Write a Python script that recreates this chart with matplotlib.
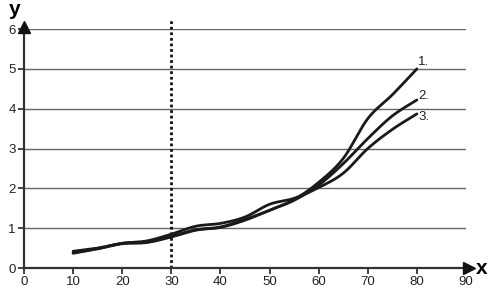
import numpy as np
import matplotlib.pyplot as plt

# values
x = [10, 15, 20, 25, 30, 35, 40, 45, 50, 55, 60, 65, 70, 75, 80]
line1 = [0.38, 0.49, 0.62, 0.65, 0.80, 0.96, 1.03, 1.22, 1.45, 1.72, 2.15, 2.75, 3.75, 4.35, 5.00]
line2 = [0.37, 0.48, 0.61, 0.64, 0.78, 0.95, 1.02, 1.20, 1.45, 1.70, 2.08, 2.62, 3.25, 3.82, 4.22]
line3 = [0.42, 0.50, 0.62, 0.68, 0.85, 1.05, 1.12, 1.28, 1.60, 1.75, 2.02, 2.38, 3.00, 3.48, 3.87]
labels = ["1.", "2.", "3."]
label_shift = [0.17, 0.10, -0.08]
x_ticks = [0, 10, 20, 30, 40, 50, 60, 70, 80, 90]
y_ticks = [0, 1, 2, 3, 4, 5, 6]
x_mark = 30


# smooth drawing of a line through the points (Catmull-Rom)
def smooth(xx, yy, n=20):
    p = np.column_stack([xx, yy]).astype(float)
    p = np.vstack([p[0], p, p[-1]])
    out = []
    t = np.linspace(0, 1, n, endpoint=False)[:, None]
    for i in range(1, len(p) - 2):
        p0, p1, p2, p3 = p[i - 1], p[i], p[i + 1], p[i + 2]
        seg = 0.5 * ((2 * p1) + (-p0 + p2) * t + (2 * p0 - 5 * p1 + 4 * p2 - p3) * t ** 2
                     + (-p0 + 3 * p1 - 3 * p2 + p3) * t ** 3)
        out.append(seg)
    out.append(p[-2][None, :])
    out = np.vstack(out)
    return out[:, 0], out[:, 1]


plt.rcParams['font.family'] = ['Liberation Sans', 'DejaVu Sans']
fig = plt.figure(figsize=(5, 2.95), dpi=100)
ax = fig.add_axes([0.048, 0.0915, 0.884, 0.81])

for yv in y_ticks[1:]:
    ax.axhline(yv, color='#666666', lw=1, zorder=1)

ax.plot([x_mark, x_mark], [0, 6.28], color='#111111', lw=2, ls=(0, (1, 1)), zorder=2, clip_on=False)

for ys, lab, sh in zip([line1, line2, line3], labels, label_shift):
    sx, sy = smooth(x, ys)
    ax.plot(sx, sy, color='#1a1a1a', lw=2, zorder=3, solid_capstyle='round')
    ax.text(x[-1] + 0.3, ys[-1] + sh, lab, fontsize=9.5, color='#222222', va='center', ha='left')

ax.set_xlim(0, 90)
ax.set_ylim(0, 6)
ax.set_xticks(x_ticks)
ax.set_yticks(y_ticks)
ax.tick_params(axis='both', labelsize=9.5, colors='#222222', length=4, width=1.2, pad=2)
for s in ['top', 'right']:
    ax.spines[s].set_visible(False)
for s in ['left', 'bottom']:
    ax.spines[s].set_color('#333333')
    ax.spines[s].set_linewidth(1.6)

# arrows on the axes
ax.plot(90.7, 0, marker='>', ms=9, color='#111111', clip_on=False, zorder=5)
ax.plot(0, 6.05, marker='^', ms=9, color='#111111', clip_on=False, zorder=5)
ax.text(92.0, 0, 'x', fontsize=15, fontweight='bold', va='center', ha='left')
ax.text(-1.9, 6.5, 'y', fontsize=15, fontweight='bold', va='center', ha='center')

fig.savefig('out.png', dpi=100)
